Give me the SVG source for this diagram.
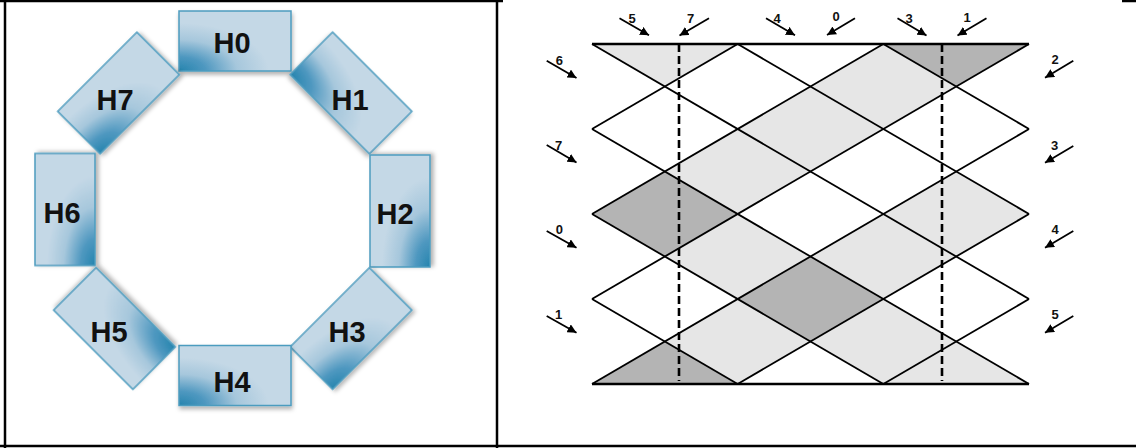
<svg xmlns="http://www.w3.org/2000/svg" width="1136" height="448" viewBox="0 0 1136 448">
  <style>
    .box { stroke: #4c9cbf; stroke-width: 1.5; filter: url(#sh); }
    .hl { font-family: "Liberation Sans", Arial, sans-serif; font-weight: bold; font-size: 29px; fill: #111; text-anchor: middle; }
    .num { font-family: "Liberation Sans", Arial, sans-serif; font-weight: bold; font-size: 13px; fill: #111; text-anchor: middle; }
    .lt { fill: #e6e6e6; stroke: none; }
    .dk { fill: #b4b4b4; stroke: none; }
    .ln { stroke: #000; stroke-width: 1.8; fill: none; }
    .edge { stroke: #000; stroke-width: 2.4; fill: none; }
    .dash { stroke: #000; stroke-width: 2.6; stroke-dasharray: 8 4; fill: none; }
    .arr { stroke: #000; stroke-width: 1.8; fill: none; marker-end: url(#ah); }
    .frame { stroke: #000; stroke-width: 2.5; fill: none; }
  </style>
  <defs>
    <radialGradient id="gBL" cx="0" cy="1" fx="0" fy="1" r="0.8">
      <stop offset="0" stop-color="#2584ae"/>
      <stop offset="0.3" stop-color="#4f98c0"/>
      <stop offset="0.65" stop-color="#a6c7dc"/>
      <stop offset="1" stop-color="#c4d8e6"/>
    </radialGradient>
    <filter id="sh" x="-20%" y="-20%" width="140%" height="150%">
      <feDropShadow dx="1" dy="3" stdDeviation="2" flood-color="#000" flood-opacity="0.3"/>
    </filter>
    <marker id="ah" markerUnits="userSpaceOnUse" markerWidth="11" markerHeight="9" refX="9" refY="4.5" orient="auto">
      <path d="M0,0 L9,4.5 L0,9 z" fill="#000"/>
    </marker>
  </defs>

  <!-- frame -->
  <g id="frame">
    <line class="frame" x1="0" y1="1" x2="503" y2="1"/>
    <line class="frame" x1="1122" y1="1" x2="1136" y2="1"/>
    <line class="frame" x1="5" y1="0" x2="5" y2="448"/>
    <line class="frame" x1="497" y1="0" x2="497" y2="448"/>
    <line class="frame" x1="0" y1="446" x2="1136" y2="446"/>
  </g>

  <!-- ring of nodes -->
  <g id="H0"><rect class="box" x="-56" y="-30" width="112" height="60" fill="url(#gBL)" transform="translate(235,41)"/><text class="hl" x="232" y="53">H0</text></g>
  <g id="H1"><rect class="box" x="-56" y="-30" width="112" height="60" fill="url(#gBL)" transform="translate(351,93) rotate(45)"/><text class="hl" x="350" y="110">H1</text></g>
  <g id="H2"><rect class="box" x="-56" y="-30" width="112" height="60" fill="url(#gBL)" transform="translate(400,211) rotate(-90)"/><text class="hl" x="395" y="224">H2</text></g>
  <g id="H3"><rect class="box" x="-56" y="-30" width="112" height="60" fill="url(#gBL)" transform="translate(351,328.5) rotate(-45)"/><text class="hl" x="347" y="342">H3</text></g>
  <g id="H4"><rect class="box" x="-56" y="-30" width="112" height="60" fill="url(#gBL)" transform="translate(235,375.5)"/><text class="hl" x="232" y="392">H4</text></g>
  <g id="H5"><rect class="box" x="-56" y="-30" width="112" height="60" fill="url(#gBL)" transform="translate(114.5,328.5) rotate(225)"/><text class="hl" x="109" y="342">H5</text></g>
  <g id="H6"><rect class="box" x="-56" y="-30" width="112" height="60" fill="url(#gBL)" transform="translate(65,209.5) rotate(-90)"/><text class="hl" x="62" y="223">H6</text></g>
  <g id="H7"><rect class="box" x="-56" y="-30" width="112" height="60" fill="url(#gBL)" transform="translate(118.5,93) rotate(-45)"/><text class="hl" x="115" y="110">H7</text></g>

  <!-- lattice fills -->
  <g id="cells">
    <polygon class="lt" points="592,44 737.67,44 664.83,86.5"/>
    <polygon class="lt" points="883.33,44 956.17,86.5 883.33,129 810.5,86.5"/>
    <polygon class="lt" points="810.5,86.5 883.33,129 810.5,171.5 737.67,129"/>
    <polygon class="lt" points="737.67,129 810.5,171.5 737.67,214 664.83,171.5"/>
    <polygon class="lt" points="956.17,171.5 1029,214 956.17,256.5 883.33,214"/>
    <polygon class="lt" points="737.67,214 810.5,256.5 737.67,299 664.83,256.5"/>
    <polygon class="lt" points="883.33,214 956.17,256.5 883.33,299 810.5,256.5"/>
    <polygon class="lt" points="737.67,299 810.5,341.5 737.67,384 664.83,341.5"/>
    <polygon class="lt" points="883.33,299 956.17,341.5 883.33,384 810.5,341.5"/>
    <polygon class="lt" points="883.33,384 956.17,341.5 1029,384"/>
    <polygon class="dk" points="883.33,44 1029,44 956.17,86.5"/>
    <polygon class="dk" points="664.83,171.5 737.67,214 664.83,256.5 592,214"/>
    <polygon class="dk" points="810.5,256.5 883.33,299 810.5,341.5 737.67,299"/>
    <polygon class="dk" points="592,384 664.83,341.5 737.67,384"/>
  </g>

  <!-- lattice lines -->
  <g id="connectors">
    <line class="ln" x1="592" y1="44" x2="1029" y2="299"/>
    <line class="ln" x1="592" y1="129" x2="1029" y2="384"/>
    <line class="ln" x1="592" y1="214" x2="883.33" y2="384"/>
    <line class="ln" x1="592" y1="299" x2="737.67" y2="384"/>
    <line class="ln" x1="737.67" y1="44" x2="1029" y2="214"/>
    <line class="ln" x1="883.33" y1="44" x2="1029" y2="129"/>
    <line class="ln" x1="592" y1="129" x2="737.67" y2="44"/>
    <line class="ln" x1="592" y1="214" x2="883.33" y2="44"/>
    <line class="ln" x1="592" y1="299" x2="1029" y2="44"/>
    <line class="ln" x1="592" y1="384" x2="1029" y2="129"/>
    <line class="ln" x1="737.67" y1="384" x2="1029" y2="214"/>
    <line class="ln" x1="883.33" y1="384" x2="1029" y2="299"/>
    <line class="edge" x1="592" y1="44" x2="1029" y2="44"/>
    <line class="edge" x1="592" y1="384" x2="1029" y2="384"/>
    <line class="dash" x1="679" y1="44" x2="679" y2="381"/>
    <line class="dash" x1="942" y1="44" x2="942" y2="381"/>

    <!-- incoming arrows -->
    <line class="arr" x1="619.5" y1="18.3" x2="649" y2="35.3"/>
    <line class="arr" x1="709" y1="18.3" x2="679.5" y2="35.5"/>
    <line class="arr" x1="766" y1="18.3" x2="795" y2="35.3"/>
    <line class="arr" x1="855" y1="18.3" x2="827" y2="35"/>
    <line class="arr" x1="897.5" y1="18.3" x2="926.5" y2="35.5"/>
    <line class="arr" x1="986.5" y1="18.3" x2="957.5" y2="35.5"/>
    <line class="arr" x1="546.7" y1="60.7" x2="576.5" y2="78"/>
    <line class="arr" x1="546.7" y1="145" x2="576.5" y2="162.5"/>
    <line class="arr" x1="546.7" y1="231" x2="576.5" y2="247.7"/>
    <line class="arr" x1="546.7" y1="316" x2="576.5" y2="332.7"/>
    <line class="arr" x1="1073.3" y1="60.7" x2="1045" y2="77.7"/>
    <line class="arr" x1="1073.3" y1="146" x2="1045" y2="162.7"/>
    <line class="arr" x1="1073.3" y1="231" x2="1045" y2="247.7"/>
    <line class="arr" x1="1073.3" y1="316" x2="1045" y2="332.7"/>
  </g>

  <g id="labels">
    <text class="num" x="632" y="22.5">5</text>
    <text class="num" x="690.5" y="22.5">7</text>
    <text class="num" x="777" y="22.5">4</text>
    <text class="num" x="836" y="21">0</text>
    <text class="num" x="909" y="22.5">3</text>
    <text class="num" x="967" y="22">1</text>
    <text class="num" x="559.3" y="65">6</text>
    <text class="num" x="558.5" y="150">7</text>
    <text class="num" x="559.3" y="234">0</text>
    <text class="num" x="558.5" y="319.3">1</text>
    <text class="num" x="1055" y="64">2</text>
    <text class="num" x="1054.5" y="150">3</text>
    <text class="num" x="1055" y="234">4</text>
    <text class="num" x="1055" y="319.3">5</text>
  </g>
</svg>
